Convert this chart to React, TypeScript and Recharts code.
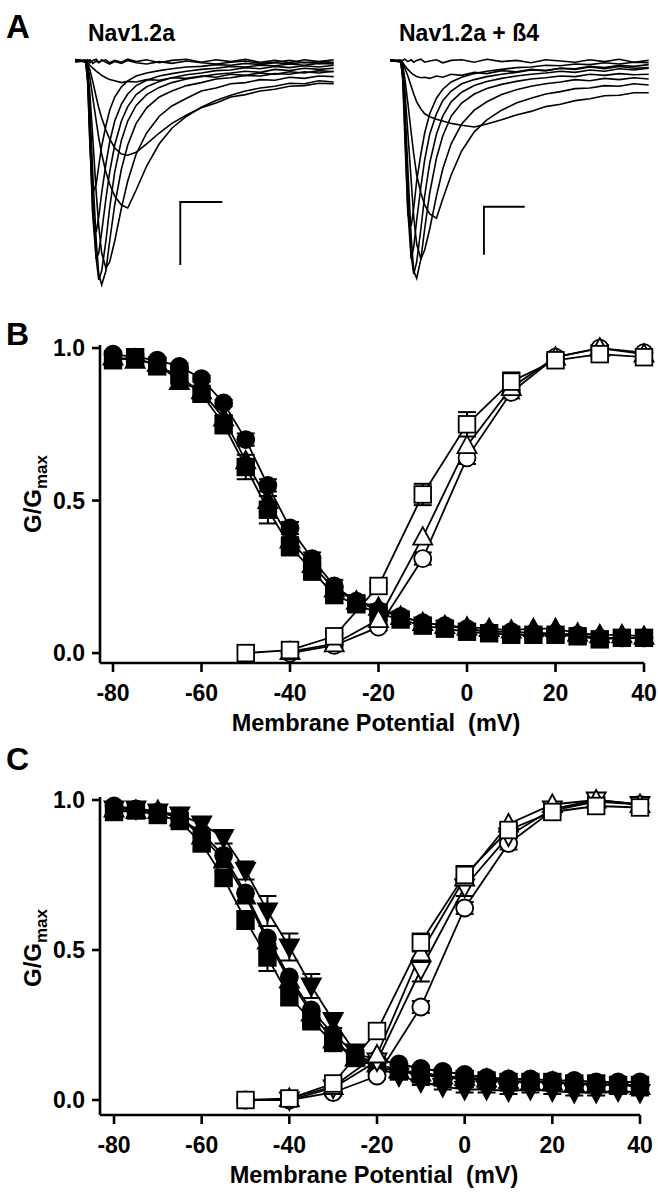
import React from "react";
import { LineChart, Line, XAxis, YAxis, ErrorBar } from "recharts";

// ---- Panel A: current traces (time in ms, current in nA) ----
const TIME_MS = [
  -0.3, -0.05, 0, 0.05, 0.12, 0.2, 0.26, 0.33, 0.43, 0.52, 0.64, 0.8, 0.95, 1.15,
  1.4, 1.7, 2.0, 2.35, 2.7, 3.05, 3.4, 3.75, 4.1, 4.45, 4.8, 5.15, 5.5, 5.85,
];

const NAV12A_TRACES = [
  [0.03, -0.02, 0.02, -0.03, 0.01, 0.03, -0.02, 0.0, 0.02, -0.03, 0.01, -0.02, 0.03, -0.01, 0.02, -0.03, 0.01, 0.03, -0.02, 0.02, -0.01, 0.03, -0.02, 0.01, -0.03, 0.02, -0.01, 0.02],
  [-0.02, 0.01, -0.01, 0.02, -0.04, 0.0, -0.03, 0.02, -0.02, -0.05, -0.01, -0.04, 0.01, -0.03, -0.05, -0.01, -0.04, 0.0, -0.03, -0.05, -0.02, 0.0, -0.04, -0.02, 0.01, -0.03, -0.01, -0.02],
  [0.01, -0.01, -0.03, -0.07, -0.12, -0.17, -0.2, -0.24, -0.28, -0.31, -0.33, -0.36, -0.34, -0.35, -0.31, -0.32, -0.28, -0.29, -0.25, -0.27, -0.22, -0.24, -0.2, -0.22, -0.18, -0.2, -0.16, -0.18],
  [0, 0.01, -0.05, -0.15, -0.35, -0.6, -0.78, -0.95, -1.15, -1.3, -1.45, -1.55, -1.57, -1.52, -1.38, -1.2, -1.04, -0.9, -0.78, -0.7, -0.6, -0.56, -0.5, -0.47, -0.42, -0.41, -0.37, -0.38],
  [0.02, 0, -0.08, -0.28, -0.62, -1.0, -1.28, -1.55, -1.85, -2.05, -2.25, -2.4, -2.45, -2.15, -1.75, -1.38, -1.12, -0.92, -0.77, -0.66, -0.57, -0.5, -0.45, -0.42, -0.37, -0.38, -0.33, -0.35],
  [0, 0.01, -0.15, -0.55, -1.3, -2.2, -2.75, -3.2, -3.45, -3.35, -3.0, -2.45, -2.0, -1.55, -1.2, -0.92, -0.75, -0.62, -0.5, -0.45, -0.38, -0.36, -0.31, -0.32, -0.27, -0.29, -0.25, -0.26],
  [0.01, 0, -0.2, -0.8, -1.9, -3.0, -3.55, -3.73, -3.5, -3.0, -2.4, -1.8, -1.4, -1.04, -0.78, -0.6, -0.5, -0.41, -0.36, -0.3, -0.28, -0.24, -0.25, -0.21, -0.22, -0.18, -0.2, -0.17],
  [0, -0.01, -0.25, -1.0, -2.3, -3.3, -3.65, -3.5, -3.0, -2.45, -1.85, -1.32, -1.0, -0.74, -0.56, -0.44, -0.36, -0.3, -0.26, -0.22, -0.2, -0.17, -0.19, -0.14, -0.16, -0.12, -0.14, -0.12],
  [0.02, 0, -0.3, -1.2, -2.6, -3.3, -3.2, -2.85, -2.3, -1.85, -1.4, -1.0, -0.76, -0.56, -0.43, -0.34, -0.28, -0.23, -0.2, -0.16, -0.15, -0.11, -0.13, -0.09, -0.11, -0.08, -0.1, -0.07],
  [0, 0.01, -0.35, -1.35, -2.6, -2.85, -2.6, -2.2, -1.72, -1.35, -1.0, -0.72, -0.55, -0.41, -0.32, -0.25, -0.21, -0.17, -0.14, -0.12, -0.09, -0.1, -0.07, -0.08, -0.05, -0.07, -0.04, -0.05],
  [0.01, 0, -0.4, -1.4, -2.2, -2.05, -1.75, -1.42, -1.08, -0.82, -0.6, -0.43, -0.33, -0.25, -0.2, -0.16, -0.13, -0.1, -0.09, -0.06, -0.07, -0.04, -0.06, -0.03, -0.05, -0.02, -0.04, -0.03],
];

const NAV12A_B4_TRACES = [
  [0.02, -0.02, 0.01, 0.03, -0.01, 0.02, -0.02, 0.01, 0.03, -0.02, 0.0, 0.02, -0.03, 0.01, 0.02, -0.02, 0.03, -0.01, 0.01, -0.03, 0.02, 0.0, -0.02, 0.02, -0.01, 0.03, -0.02, 0.01],
  [0, 0.01, -0.03, -0.08, -0.14, -0.2, -0.23, -0.26, -0.28, -0.27, -0.29, -0.25, -0.27, -0.22, -0.24, -0.19, -0.21, -0.16, -0.18, -0.14, -0.16, -0.12, -0.14, -0.1, -0.13, -0.09, -0.12, -0.11],
  [0.01, 0, -0.04, -0.12, -0.25, -0.42, -0.55, -0.68, -0.8, -0.88, -0.93, -0.97, -1.0, -1.04, -1.07, -1.1, -1.05, -0.98, -0.9, -0.84, -0.76, -0.72, -0.66, -0.63, -0.58, -0.57, -0.53, -0.53],
  [0.02, 0, -0.08, -0.3, -0.7, -1.2, -1.55, -1.9, -2.2, -2.4, -2.55, -2.62, -2.3, -1.9, -1.5, -1.18, -0.98, -0.82, -0.7, -0.62, -0.55, -0.51, -0.46, -0.45, -0.41, -0.42, -0.38, -0.4],
  [0, 0.01, -0.12, -0.5, -1.2, -2.0, -2.6, -3.05, -3.3, -3.15, -2.8, -2.25, -1.8, -1.38, -1.05, -0.82, -0.68, -0.56, -0.48, -0.42, -0.38, -0.35, -0.31, -0.33, -0.29, -0.31, -0.28, -0.3],
  [0.01, 0, -0.18, -0.75, -1.8, -2.95, -3.5, -3.62, -3.3, -2.8, -2.2, -1.62, -1.25, -0.92, -0.7, -0.55, -0.46, -0.39, -0.34, -0.3, -0.28, -0.25, -0.26, -0.22, -0.24, -0.21, -0.23, -0.22],
  [0, -0.01, -0.22, -0.95, -2.2, -3.25, -3.55, -3.35, -2.8, -2.25, -1.7, -1.22, -0.92, -0.68, -0.52, -0.41, -0.34, -0.29, -0.25, -0.22, -0.2, -0.17, -0.19, -0.15, -0.17, -0.13, -0.15, -0.12],
  [0.02, 0, -0.28, -1.15, -2.5, -3.3, -3.1, -2.65, -2.1, -1.65, -1.22, -0.88, -0.66, -0.5, -0.38, -0.31, -0.26, -0.22, -0.19, -0.15, -0.16, -0.12, -0.13, -0.09, -0.11, -0.07, -0.09, -0.06],
  [0, 0.01, -0.32, -1.3, -2.55, -2.75, -2.45, -2.0, -1.55, -1.2, -0.88, -0.62, -0.47, -0.35, -0.27, -0.21, -0.17, -0.14, -0.11, -0.1, -0.07, -0.08, -0.05, -0.06, -0.03, -0.05, -0.02, -0.03],
];

// scale bars: vertical end, corner, horizontal end (ms, nA)
const SCALE_BAR_LEFT = [
  { t: 2.2, i: -3.4 },
  { t: 2.2, i: -2.35 },
  { t: 3.2, i: -2.35 },
];
const SCALE_BAR_RIGHT = [
  { t: 1.93, i: -3.23 },
  { t: 1.93, i: -2.43 },
  { t: 2.9, i: -2.43 },
];

// ---- Panels B, C: G/Gmax vs membrane potential ----
const V_INACT = [-80, -75, -70, -65, -60, -55, -50, -45, -40, -35, -30, -25, -20, -15, -10, -5, 0, 5, 10, 15, 20, 25, 30, 35, 40];
const V_ACT = [-50, -40, -30, -20, -10, 0, 10, 20, 30, 40];
const V_TICKS = [-80, -60, -40, -20, 0, 20, 40];
const G_TICKS = [0, 0.5, 1.0];

const B_INACT_TRIANGLE = [0.97, 0.96, 0.95, 0.89, 0.86, 0.77, 0.63, 0.5, 0.37, 0.29, 0.21, 0.17, 0.15, 0.12, 0.1, 0.09, 0.085, 0.08, 0.075, 0.08, 0.08, 0.065, 0.06, 0.06, 0.055];
const B_INACT_SQUARE = [0.96, 0.97, 0.94, 0.91, 0.85, 0.75, 0.61, 0.47, 0.35, 0.27, 0.19, 0.16, 0.13, 0.11, 0.09, 0.08, 0.07, 0.065, 0.06, 0.06, 0.06, 0.055, 0.045, 0.05, 0.05];
const B_INACT_SQUARE_ERR = [0.01, 0.01, 0.01, 0.02, 0.02, 0.03, 0.04, 0.045, 0.03, 0.03, 0.025, 0.02, 0.02, 0.01, 0.01, 0.01, 0.01, 0.01, 0.01, 0.01, 0.01, 0.01, 0.01, 0.01, 0.01];
const B_INACT_CIRCLE = [0.98, 0.97, 0.96, 0.94, 0.9, 0.82, 0.7, 0.55, 0.41, 0.31, 0.22, 0.17, 0.14, 0.12, 0.1, 0.09, 0.08, 0.07, 0.07, 0.065, 0.065, 0.06, 0.05, 0.05, 0.05];
const B_INACT_CIRCLE_ERR = [0.01, 0.01, 0.01, 0.01, 0.01, 0.01, 0.02, 0.02, 0.02, 0.02, 0.02, 0.02, 0.02, 0.01, 0.01, 0.01, 0.01, 0.01, 0.01, 0.01, 0.01, 0.01, 0.01, 0.01, 0.01];
const B_ACT_CIRCLE = [null, 0.0, 0.025, 0.085, 0.31, 0.64, 0.855, 0.97, 1.0, 0.985];
const B_ACT_CIRCLE_ERR = [0, 0.01, 0.01, 0.01, 0.02, 0.02, 0.02, 0.01, 0.01, 0.01];
const B_ACT_TRIANGLE = [null, 0.005, 0.03, 0.11, 0.38, 0.68, 0.87, 0.97, 1.0, 0.98];
const B_ACT_SQUARE = [0.0, 0.01, 0.055, 0.22, 0.52, 0.75, 0.89, 0.96, 0.98, 0.97];
const B_ACT_SQUARE_ERR = [0, 0, 0.01, 0.01, 0.035, 0.04, 0.03, 0.01, 0.01, 0.01];

const C_INACT_TRIANGLE = [0.97, 0.965, 0.965, 0.94, 0.88, 0.8, 0.68, 0.53, 0.4, 0.29, 0.2, 0.14, 0.12, 0.1, 0.09, 0.08, 0.075, 0.07, 0.065, 0.06, 0.06, 0.055, 0.05, 0.05, 0.045];
const C_INACT_SQUARE = [0.96, 0.965, 0.95, 0.93, 0.855, 0.74, 0.6, 0.475, 0.345, 0.265, 0.19, 0.14, 0.11, 0.095, 0.085, 0.075, 0.07, 0.065, 0.06, 0.06, 0.06, 0.055, 0.055, 0.05, 0.05];
const C_INACT_SQUARE_ERR = [0.01, 0.01, 0.01, 0.01, 0.02, 0.02, 0.03, 0.045, 0.03, 0.03, 0.02, 0.02, 0.01, 0.01, 0.01, 0.01, 0.01, 0.01, 0.01, 0.01, 0.01, 0.01, 0.01, 0.01, 0.01];
const C_INACT_CIRCLE = [0.98, 0.97, 0.96, 0.94, 0.89, 0.815, 0.69, 0.54, 0.41, 0.3, 0.22, 0.155, 0.135, 0.12, 0.105, 0.095, 0.085, 0.075, 0.07, 0.07, 0.065, 0.065, 0.06, 0.06, 0.06];
const C_INACT_TRIANGLE_DOWN = [0.97, 0.97, 0.96, 0.95, 0.92, 0.875, 0.765, 0.63, 0.51, 0.38, 0.265, 0.16, 0.11, 0.08, 0.06, 0.045, 0.035, 0.035, 0.03, 0.035, 0.03, 0.025, 0.025, 0.03, 0.025];
const C_INACT_TRIANGLE_DOWN_ERR = [0.01, 0.01, 0.01, 0.02, 0.02, 0.02, 0.03, 0.05, 0.045, 0.04, 0.025, 0.02, 0.02, 0.01, 0.01, 0.01, 0.01, 0.01, 0.01, 0.01, 0.01, 0.01, 0.01, 0.01, 0.01];
const C_ACT_CIRCLE = [0.0, 0.0, 0.025, 0.08, 0.31, 0.64, 0.855, 0.965, 0.995, 0.985];
const C_ACT_CIRCLE_ERR = [0, 0, 0.01, 0.01, 0.02, 0.02, 0.02, 0.01, 0.01, 0.01];
const C_ACT_TRIANGLE_DOWN = [null, 0.0, 0.04, 0.13, 0.435, 0.71, 0.88, 0.97, 1.0, 0.985];
const C_ACT_TRIANGLE_DOWN_ERR = [0, 0, 0.01, 0.02, 0.04, 0.03, 0.02, 0.01, 0.01, 0.01];
const C_ACT_TRIANGLE = [null, 0.005, 0.045, 0.15, 0.49, 0.74, 0.92, 0.985, 1.0, 0.985];
const C_ACT_SQUARE = [0.0, 0.005, 0.055, 0.23, 0.525, 0.75, 0.9, 0.96, 0.98, 0.975];
const C_ACT_SQUARE_ERR = [0, 0, 0.01, 0.01, 0.03, 0.03, 0.02, 0.01, 0.01, 0.01];

type Shape = "square" | "circle" | "triangle" | "triangleDown";
interface Series {
  key: string;
  xs: number[];
  values: (number | null)[];
  err?: number[];
  shape: Shape;
  filled: boolean;
}

const B_SERIES: Series[] = [
  { key: "inTri", xs: V_INACT, values: B_INACT_TRIANGLE, shape: "triangle", filled: true },
  { key: "inSq", xs: V_INACT, values: B_INACT_SQUARE, err: B_INACT_SQUARE_ERR, shape: "square", filled: true },
  { key: "inCirc", xs: V_INACT, values: B_INACT_CIRCLE, err: B_INACT_CIRCLE_ERR, shape: "circle", filled: true },
  { key: "acCirc", xs: V_ACT, values: B_ACT_CIRCLE, err: B_ACT_CIRCLE_ERR, shape: "circle", filled: false },
  { key: "acTri", xs: V_ACT, values: B_ACT_TRIANGLE, shape: "triangle", filled: false },
  { key: "acSq", xs: V_ACT, values: B_ACT_SQUARE, err: B_ACT_SQUARE_ERR, shape: "square", filled: false },
];

const C_SERIES: Series[] = [
  { key: "inTri", xs: V_INACT, values: C_INACT_TRIANGLE, shape: "triangle", filled: true },
  { key: "inCirc", xs: V_INACT, values: C_INACT_CIRCLE, shape: "circle", filled: true },
  { key: "inSq", xs: V_INACT, values: C_INACT_SQUARE, err: C_INACT_SQUARE_ERR, shape: "square", filled: true },
  { key: "inTriDn", xs: V_INACT, values: C_INACT_TRIANGLE_DOWN, err: C_INACT_TRIANGLE_DOWN_ERR, shape: "triangleDown", filled: true },
  { key: "acCirc", xs: V_ACT, values: C_ACT_CIRCLE, err: C_ACT_CIRCLE_ERR, shape: "circle", filled: false },
  { key: "acTriDn", xs: V_ACT, values: C_ACT_TRIANGLE_DOWN, err: C_ACT_TRIANGLE_DOWN_ERR, shape: "triangleDown", filled: false },
  { key: "acTri", xs: V_ACT, values: C_ACT_TRIANGLE, shape: "triangle", filled: false },
  { key: "acSq", xs: V_ACT, values: C_ACT_SQUARE, err: C_ACT_SQUARE_ERR, shape: "square", filled: false },
];

const FONT = "'Liberation Sans', Arial, Helvetica, sans-serif";

function buildCurveRows(series: Series[]) {
  return V_INACT.map((v) => {
    const row: Record<string, number | null | undefined> = { v };
    series.forEach((s) => {
      const idx = s.xs.indexOf(v);
      row[s.key] = idx >= 0 ? s.values[idx] : undefined;
      row[s.key + "_err"] = idx >= 0 && s.err ? s.err[idx] : 0;
    });
    return row;
  });
}

function buildTraceRows(traces: number[][]) {
  return TIME_MS.map((t, k) => {
    const row: Record<string, number> = { t };
    traces.forEach((tr, j) => {
      row["s" + j] = tr[k];
    });
    return row;
  });
}

function Marker({ cx, cy, shape, filled }: { cx?: number; cy?: number; shape: Shape; filled: boolean }) {
  if (cx == null || cy == null || !Number.isFinite(cx) || !Number.isFinite(cy)) return <g />;
  const fill = filled ? "#000" : "#fff";
  const common = { fill, stroke: "#000", strokeWidth: 1.8 };
  if (shape === "square") {
    const h = 8.3;
    return <rect x={cx - h} y={cy - h} width={2 * h} height={2 * h} {...common} />;
  }
  if (shape === "circle") {
    return <circle cx={cx} cy={cy} r={8.5} {...common} />;
  }
  if (shape === "triangle") {
    const pts = `${cx},${cy - 10} ${cx + 9.5},${cy + 7.5} ${cx - 9.5},${cy + 7.5}`;
    return <polygon points={pts} {...common} />;
  }
  const pts = `${cx},${cy + 10} ${cx + 9.5},${cy - 7.5} ${cx - 9.5},${cy - 7.5}`;
  return <polygon points={pts} {...common} />;
}

const tickStyle = { fill: "#000", fontSize: 23, fontWeight: 700, fontFamily: FONT };
const axisLineStyle = { stroke: "#000", strokeWidth: 2.6 };

function GVChart({
  series,
  top,
  marginTop,
  marginBottom,
  marginRight,
  xDomain,
  yDomain,
}: {
  series: Series[];
  top: number;
  marginTop: number;
  marginBottom: number;
  marginRight: number;
  xDomain: [number, number];
  yDomain: [number, number];
}) {
  const rows = buildCurveRows(series);
  return (
    <div style={{ position: "absolute", left: 0, top }}>
      <LineChart
        width={658}
        height={440}
        data={rows}
        margin={{ top: marginTop, right: marginRight, bottom: marginBottom, left: 40 }}
      >
        <XAxis
          dataKey="v"
          type="number"
          domain={xDomain}
          ticks={V_TICKS}
          height={50}
          tickSize={9}
          tickMargin={13}
          tick={tickStyle}
          axisLine={axisLineStyle}
          tickLine={axisLineStyle}
          interval={0}
        />
        <YAxis
          type="number"
          domain={yDomain}
          ticks={G_TICKS}
          width={60}
          tickSize={8}
          tickMargin={7}
          tick={tickStyle}
          axisLine={axisLineStyle}
          tickLine={axisLineStyle}
          tickFormatter={(val: number) => val.toFixed(1)}
          interval={0}
        />
        {series.map((s) => (
          <Line
            key={s.key}
            dataKey={s.key}
            type="linear"
            stroke="#000"
            strokeWidth={1.8}
            connectNulls
            isAnimationActive={false}
            activeDot={false}
            dot={(p: any) => (
              <Marker key={`${s.key}-${p.index}`} cx={p.cx} cy={p.cy} shape={s.shape} filled={s.filled} />
            )}
          >
            {s.err && (
              <ErrorBar dataKey={s.key + "_err"} width={9} strokeWidth={2} stroke="#000" direction="y" />
            )}
          </Line>
        ))}
      </LineChart>
    </div>
  );
}

function TraceChart({
  traces,
  scaleBar,
  left,
}: {
  traces: number[][];
  scaleBar: { t: number; i: number }[];
  left: number;
}) {
  const rows = buildTraceRows(traces);
  return (
    <div style={{ position: "absolute", left, top: 43 }}>
      <LineChart width={269} height={258} data={rows} margin={{ top: 0, right: 0, bottom: 0, left: 0 }}>
        <XAxis dataKey="t" type="number" domain={[-0.4, 6.0]} hide allowDataOverflow />
        <YAxis type="number" domain={[-4.0, 0.3]} hide allowDataOverflow />
        {traces.map((_, j) => (
          <Line
            key={j}
            dataKey={"s" + j}
            type="linear"
            stroke="#000"
            strokeWidth={1.6}
            dot={false}
            activeDot={false}
            isAnimationActive={false}
          />
        ))}
        <Line
          data={scaleBar}
          dataKey="i"
          type="linear"
          stroke="#000"
          strokeWidth={1.9}
          dot={false}
          activeDot={false}
          isAnimationActive={false}
        />
      </LineChart>
    </div>
  );
}

function GLabel({ cx, cy }: { cx: number; cy: number }) {
  return (
    <text
      transform={`translate(${cx},${cy}) rotate(-90)`}
      textAnchor="middle"
      fontFamily={FONT}
      fontWeight={700}
      fontSize={24}
      fill="#000"
    >
      G/G
      <tspan fontSize={17} dy={6}>
        max
      </tspan>
    </text>
  );
}

export default function App() {
  const textProps = { fontFamily: FONT, fontWeight: 700, fill: "#000" };
  return (
    <div
      style={{
        position: "absolute",
        left: 0,
        top: 0,
        width: 658,
        height: 1199,
        background: "#fff",
        overflow: "hidden",
      }}
    >
      <TraceChart traces={NAV12A_TRACES} scaleBar={SCALE_BAR_LEFT} left={71} />
      <TraceChart traces={NAV12A_B4_TRACES} scaleBar={SCALE_BAR_RIGHT} left={386} />

      <GVChart
        series={B_SERIES}
        top={300}
        marginTop={45}
        marginBottom={27}
        marginRight={14}
        xDomain={[-82.94, 40]}
        yDomain={[-0.0325, 1.0]}
      />
      <GVChart
        series={C_SERIES}
        top={750}
        marginTop={47}
        marginBottom={25}
        marginRight={18}
        xDomain={[-83.2, 40]}
        yDomain={[-0.05, 1.0]}
      />

      <svg
        width={658}
        height={1199}
        style={{ position: "absolute", left: 0, top: 0, pointerEvents: "none" }}
      >
        <text x={6} y={38} fontSize={33} {...textProps}>A</text>
        <text x={88} y={41} fontSize={23} {...textProps}>Nav1.2a</text>
        <text x={399} y={41} fontSize={23} {...textProps}>Nav1.2a + ß4</text>

        <text x={6} y={345} fontSize={32} {...textProps}>B</text>
        <GLabel cx={41} cy={494} />
        <text x={376} y={731} fontSize={23.5} textAnchor="middle" style={{ whiteSpace: "pre" }} {...textProps}>
          {"Membrane Potential  (mV)"}
        </text>

        <text x={6} y={770} fontSize={32} {...textProps}>C</text>
        <GLabel cx={41} cy={948} />
        <text x={374} y={1183} fontSize={23.5} textAnchor="middle" style={{ whiteSpace: "pre" }} {...textProps}>
          {"Membrane Potential  (mV)"}
        </text>
      </svg>
    </div>
  );
}
